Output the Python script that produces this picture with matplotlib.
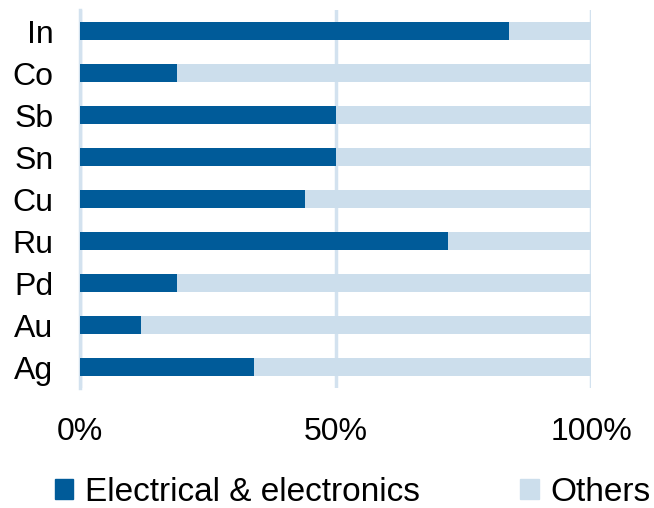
import matplotlib
matplotlib.use("Agg")
import matplotlib.pyplot as plt
from matplotlib.patches import Patch

plt.rcParams['font.family'] = ['Liberation Sans', 'DejaVu Sans']

# metals, bottom to top as drawn
metals = ['Ag', 'Au', 'Pd', 'Ru', 'Cu', 'Sn', 'Sb', 'Co', 'In']
electrical = [34, 12, 19, 72, 44, 50, 50, 19, 84]
others = [100 - v for v in electrical]

dark = '#005b99'
light = '#ccdeec'
grid = '#d3e2ef'

fig = plt.figure(figsize=(6.54, 5.08), dpi=100)
ax = fig.add_axes([0.122, 0.236, 0.782, 0.744])

ax.barh(metals, electrical, height=0.43, color=dark, zorder=3)
ax.barh(metals, others, left=electrical, height=0.43, color=light, zorder=3)

ax.set_xlim(0, 100)
ax.set_ylim(-0.5, 8.5)
ax.set_xticks([0, 50, 100])
ax.set_xticklabels(['0%', '50%', '100%'])
ax.xaxis.grid(True, color=grid, linewidth=2.5, zorder=0)
ax.tick_params(axis='both', length=0, labelsize=23)
ax.tick_params(axis='x', pad=21)
ax.tick_params(axis='y', pad=19)
for s in ['top', 'right', 'bottom']:
    ax.spines[s].set_visible(False)
ax.spines['left'].set_color(grid)
ax.spines['left'].set_linewidth(2.5)

handles = [Patch(color=dark, label='Electrical & electronics'),
           Patch(color=light, label='Others')]
fig.legend(handles=handles, loc='lower left', bbox_to_anchor=(0.084, 0.0), ncol=2,
           frameon=False, fontsize=24, handlelength=0.55, handleheight=0.55,
           handletextpad=0.36, columnspacing=3.0, borderpad=0, borderaxespad=0)

fig.savefig('out.png', dpi=100)
